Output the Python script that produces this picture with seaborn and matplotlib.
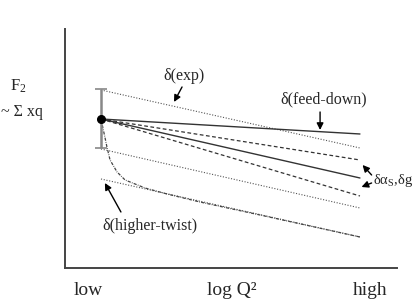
import numpy as np
import pandas as pd
import matplotlib
matplotlib.use("Agg")
import matplotlib.pyplot as plt
import seaborn as sns

# x runs from the measured point (0) to high Q^2 (1); y is F2 in arbitrary units
x_ends = [0.0, 1.0]

# straight bands: (start, end)
exp_upper = [1.78, 1.20]
feed_down = [1.49, 1.34]
alpha_upper = [1.49, 1.08]
central = [1.49, 0.90]
alpha_lower = [1.49, 0.72]
exp_lower = [1.19, 0.60]
twist_line = [0.89, 0.31]

# higher-twist curve
twist_x = [0.000, 0.015, 0.023, 0.035, 0.062, 0.093, 0.170, 0.255, 0.382, 0.614, 1.000]
twist_y = [1.49, 1.31, 1.21, 1.08, 0.96, 0.88, 0.80, 0.74, 0.66, 0.53, 0.31]

# data point with experimental error
point_x = 0.0
point_y = 1.49
point_err = 0.295

tick_pos = [-0.05, 0.506, 1.039]
tick_labels = ["low", "log Q²", "high"]

sns.set_theme(style="white")
plt.rcParams["font.family"] = ["Liberation Serif", "DejaVu Serif"]
plt.rcParams["mathtext.fontset"] = "custom"
plt.rcParams["mathtext.rm"] = "Liberation Serif"
plt.rcParams["mathtext.it"] = "Liberation Serif:italic"

fig = plt.figure(figsize=(4.15, 3.08), dpi=100)
ax = fig.add_axes([0.1566, 0.1299, 0.80, 0.776])

dotted = (0, (1, 1.5))
dashed = (0, (3, 2))

lines = [
    (exp_upper, dotted, "#555555", 0.8),
    (feed_down, "-", "#333333", 1.0),
    (alpha_upper, dashed, "#333333", 0.9),
    (central, "-", "#333333", 1.0),
    (alpha_lower, dashed, "#333333", 0.9),
    (exp_lower, dotted, "#555555", 0.8),
    (twist_line, dotted, "#555555", 0.8),
]
for vals, ls, col, lw in lines:
    sns.lineplot(x=x_ends, y=vals, ax=ax, color=col, linestyle=ls, linewidth=lw)

sns.lineplot(x=twist_x, y=twist_y, ax=ax, color="#444444",
             linestyle=(0, (2.5, 1, 0.6, 1)), linewidth=0.9, sort=False)

ax.errorbar([point_x], [point_y], yerr=[point_err], fmt="none",
            ecolor="#888888", elinewidth=1.8, capsize=4.5, capthick=1.2)
ax.plot([point_x], [point_y], "o", color="black", markersize=5.5, zorder=5)

ax.set_xlim(-0.139, 1.143)
ax.set_ylim(0, 2.39)
ax.set_xticks(tick_pos)
ax.set_xticklabels(tick_labels, fontsize=14)
ax.set_yticks([])
ax.tick_params(axis="x", length=0, pad=10)
for side in ["top", "right"]:
    ax.spines[side].set_visible(False)
for side in ["left", "bottom"]:
    ax.spines[side].set_color("#444444")
    ax.spines[side].set_linewidth(1.4)

fs = 11.5
arrow = dict(arrowstyle="-|>", color="black", lw=1.0, mutation_scale=10,
             shrinkA=0, shrinkB=0)

ax.text(0.320, 1.92, "δ(exp)", fontsize=fs, ha="center", va="center")
ax.annotate("", xy=(0.282, 1.66), xytext=(0.313, 1.81), arrowprops=arrow)

ax.text(0.861, 1.69, "δ(feed-down)", fontsize=fs, ha="center", va="center")
ax.annotate("", xy=(0.846, 1.38), xytext=(0.846, 1.56), arrowprops=arrow)

ax.text(1.049, 0.87, r"δ$\mathregular{α_S}$,δg", fontsize=10.5, ha="left",
        va="center", clip_on=False)
ax.annotate("", xy=(1.010, 1.03), xytext=(1.045, 0.93), arrowprops=arrow,
            annotation_clip=False)
ax.annotate("", xy=(1.006, 0.81), xytext=(1.045, 0.85), arrowprops=arrow,
            annotation_clip=False)

ax.text(0.189, 0.42, "δ(higher-twist)", fontsize=fs, ha="center", va="center")
ax.annotate("", xy=(0.015, 0.85), xytext=(0.077, 0.56), arrowprops=arrow)

ax.text(-0.318, 1.82, r"$\mathregular{F_2}$", fontsize=fs + 0.5, ha="center",
        va="center", clip_on=False)
ax.text(-0.305, 1.56, "~ Σ xq", fontsize=fs, ha="center", va="center",
        clip_on=False)

fig.savefig("out.png", dpi=100)
